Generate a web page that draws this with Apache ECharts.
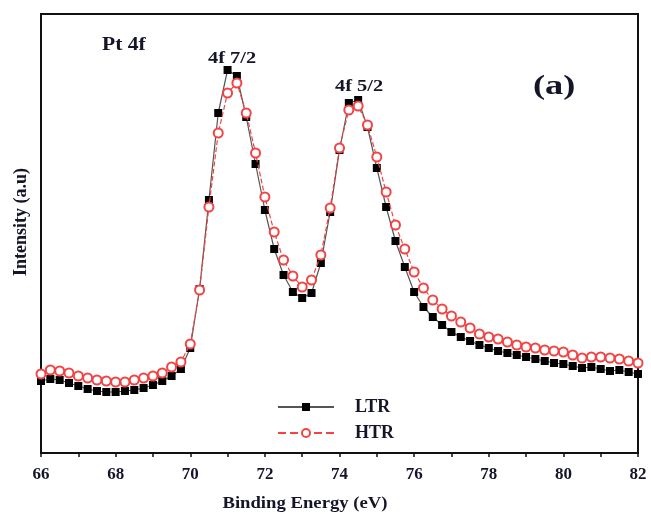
<!DOCTYPE html>
<html>
<head>
<meta charset="utf-8">
<script src="https://cdn.jsdelivr.net/npm/echarts@6/dist/echarts.min.js"></script>
<style>
  html, body { margin: 0; padding: 0; background: #fff; }
  #chart { width: 651px; height: 514px; }
</style>
</head>
<body>
<div id="chart"></div>
<script>
// binding energy, 66 to 82 eV in 0.25 eV steps
const energy = [];
for (let i = 0; i <= 64; i++) energy.push(66 + i * 0.25);

// intensity (a.u.)
const ltr = [
    72, 74, 73, 70, 67, 64, 62, 61, 61, 62, 63, 65, 68, 72, 77, 84,
    105, 164, 253, 340, 383, 377, 336, 289, 243, 204, 178, 161,
    155, 160, 190, 241, 303, 350, 353, 326, 285, 246, 212, 186,
    161, 146, 136, 128, 121, 116, 112, 108, 105, 102, 100, 98,
    96, 94, 92, 90, 89, 87, 85, 86, 84, 82, 83, 81, 79
];
const htr = [
    79, 83, 82, 80, 77, 75, 73, 72, 71, 71, 73, 75, 77, 80, 86, 91,
    109, 163, 246, 320, 360, 370, 340, 300, 256, 221, 193, 177,
    166, 173, 198, 245, 305, 343, 347, 328, 296, 261, 228, 204,
    181, 165, 153, 144, 137, 131, 125, 119, 116, 114, 111, 108,
    106, 105, 103, 102, 101, 98, 95, 96, 96, 95, 94, 92, 90
];

const serif = '"Liberation Serif", "DejaVu Serif", serif';
const ink = '#15152a';

// text placed on the figure, stretched a little like the original
function note(text, x, y, size, sx, align) {
    return {
        type: 'text', x: x, y: y, scaleX: sx,
        style: { text: text, font: 'bold ' + size + 'px ' + serif, fill: ink, textAlign: align || 'left', textVerticalAlign: 'middle' }
    };
}

const chart = echarts.init(document.getElementById('chart'));
chart.setOption({
    animation: false,
    grid: { left: 41, right: 13, top: 14, bottom: 61, show: true, borderColor: '#111', borderWidth: 2 },
    legend: {
        orient: 'vertical',
        left: 272, top: 393,
        itemWidth: 56, itemHeight: 10, itemGap: 8,
        textStyle: { fontFamily: serif, fontWeight: 'bold', fontSize: 18, color: ink, padding: [0, 0, 0, 16] },
        data: ['LTR', 'HTR']
    },
    xAxis: {
        type: 'value', min: 66, max: 82, interval: 2,
        axisLine: { lineStyle: { color: '#111', width: 2 } },
        axisTick: { inside: false, length: 4, lineStyle: { color: '#111', width: 1.5 } },
        minorTick: { show: true, splitNumber: 2, length: 4, lineStyle: { color: '#111', width: 1.5 } },
        axisLabel: { fontFamily: serif, fontWeight: 'bold', fontSize: 17, color: ink, margin: 13 },
        splitLine: { show: false }
    },
    yAxis: {
        type: 'value', min: 0, max: 439,
        axisLine: { show: true, lineStyle: { color: '#111', width: 2 } },
        axisTick: { show: false },
        axisLabel: { show: false },
        splitLine: { show: false }
    },
    graphic: [
        {
            type: 'text', x: 21, y: 222, rotation: Math.PI / 2,
            style: { text: 'Intensity (a.u)', font: 'bold 18px ' + serif, fill: ink, textAlign: 'center', textVerticalAlign: 'middle' }
        },
        note('Binding Energy (eV)', 305, 504, 17, 1.1, 'center'),
        note('Pt 4f', 102, 45, 18, 1.2),
        note('4f 7/2', 208, 59, 17, 1.2),
        note('4f 5/2', 335, 87, 17, 1.2),
        note('(a)', 533, 87, 28, 1.3)
    ],
    series: [
        {
            name: 'LTR', type: 'line', z: 2,
            data: energy.map((e, i) => [e, ltr[i]]),
            symbol: 'rect', symbolSize: 8,
            lineStyle: { color: '#555', width: 1.2 },
            itemStyle: { color: '#000' }
        },
        {
            name: 'HTR', type: 'line', z: 3,
            data: energy.map((e, i) => [e, htr[i]]),
            symbol: 'emptyCircle', symbolSize: 9,
            lineStyle: { color: '#f24444', width: 1.2, type: 'dashed' },
            itemStyle: { color: '#f24444', borderWidth: 1.4 }
        }
    ]
});
</script>
</body>
</html>
